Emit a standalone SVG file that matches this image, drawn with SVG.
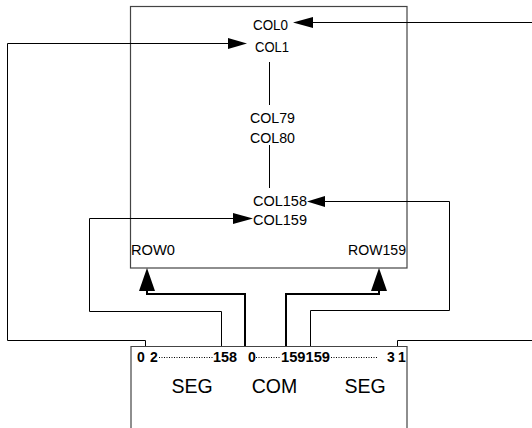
<svg xmlns="http://www.w3.org/2000/svg" width="532" height="428" viewBox="0 0 532 428">
<style>
.box{fill:none;stroke:#444;stroke-width:1.2}
.w{fill:none;stroke:#000;stroke-width:1}
.t{fill:none;stroke:#000;stroke-width:2}
.ah{fill:#000;stroke:none}
.lbl{font-family:"Liberation Sans",Arial,sans-serif;font-size:15.5px;fill:#000}
.big{font-family:"Liberation Sans",Arial,sans-serif;font-size:19.5px;fill:#000}
.num{font-family:"Liberation Sans",Arial,sans-serif;font-size:14px;font-weight:bold;fill:#000}
.dot{fill:none;stroke:#000;stroke-width:1;stroke-dasharray:1 1.5}
</style>
<rect width="532" height="428" fill="#fff"/>
<g id="panel">
<rect class="box" x="130.5" y="6.5" width="276.5" height="261.5"/>
<text class="lbl" x="253" y="30" textLength="35" lengthAdjust="spacingAndGlyphs">COL0</text>
<text class="lbl" x="255" y="52" textLength="34" lengthAdjust="spacingAndGlyphs">COL1</text>
<line class="w" x1="269.5" y1="62" x2="269.5" y2="105"/>
<text class="lbl" x="250" y="123" textLength="45" lengthAdjust="spacingAndGlyphs">COL79</text>
<text class="lbl" x="250" y="143" textLength="45" lengthAdjust="spacingAndGlyphs">COL80</text>
<line class="w" x1="269.5" y1="145" x2="269.5" y2="188"/>
<text class="lbl" x="253" y="206" textLength="54" lengthAdjust="spacingAndGlyphs">COL158</text>
<text class="lbl" x="253" y="225" textLength="54" lengthAdjust="spacingAndGlyphs">COL159</text>
<text class="lbl" x="131" y="255" textLength="44" lengthAdjust="spacingAndGlyphs">ROW0</text>
<text class="lbl" x="348" y="255" textLength="58" lengthAdjust="spacingAndGlyphs">ROW159</text>
</g>
<g id="driver">
<path class="box" d="M131 428V346.5H407V428"/>
<text class="num" x="137" y="362">0</text>
<text class="num" x="150" y="362">2</text>
<line class="dot" x1="159" y1="357.5" x2="213" y2="357.5"/>
<text class="num" x="213" y="362" textLength="24" lengthAdjust="spacingAndGlyphs">158</text>
<text class="num" x="248" y="362">0</text>
<line class="dot" x1="256" y1="357.5" x2="281" y2="357.5"/>
<text class="num" x="281" y="362" textLength="49" lengthAdjust="spacingAndGlyphs">159159</text>
<line class="dot" x1="331" y1="357.5" x2="378" y2="357.5"/>
<text class="num" x="387" y="362">3</text>
<text class="num" x="398" y="362">1</text>
<text class="big" x="192" y="393" text-anchor="middle">SEG</text>
<text class="big" x="274.5" y="393" text-anchor="middle">COM</text>
<text class="big" x="365" y="393" text-anchor="middle">SEG</text>
</g>
<g id="connectors">
<path class="w" d="M532 22.5H313"/>
<path class="ah" d="M293 22.5L313 17V28Z"/>
<path class="w" d="M145.5 346V340.5H7.5V43.5H228"/>
<path class="ah" d="M247 43.5L228 38V49Z"/>
<path class="w" d="M310.5 346V310.5H449.5V201.5H323"/>
<path class="ah" d="M307 201.5L325 196V207Z"/>
<path class="w" d="M221.5 346V311.5H89.5V218.5H234"/>
<path class="ah" d="M253 218.5L233 213V224Z"/>
<path class="t" d="M245 346V294H147V289"/>
<path class="ah" d="M147 268L155 291H139Z"/>
<path class="t" d="M286 346V294H379V289"/>
<path class="ah" d="M379 268L387 291H371Z"/>
<path class="w" d="M397.5 346V340.5H532"/>
</g>
</svg>
